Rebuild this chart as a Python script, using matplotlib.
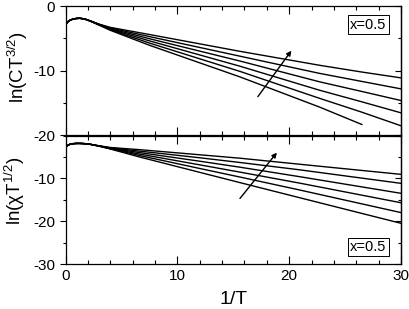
import numpy as np
import matplotlib
matplotlib.use("Agg")
import matplotlib.pyplot as plt
from matplotlib.ticker import MultipleLocator

plt.rcParams['font.family'] = ['Liberation Sans', 'DejaVu Sans']
plt.rcParams['mathtext.default'] = 'regular'
plt.rcParams['axes.unicode_minus'] = False

nan = np.nan
# ---- data: top panel ln(C T^{3/2}) vs 1/T ----
x_top = [0, 0.2, 0.4, 0.7, 1.0, 1.3, 1.7, 2.2, 3.0, 4.0, 7.5, 15.6, 22.7, 26.5, 30]
c1 = [-2.9, -2.45, -2.2, -2.0, -1.92, -1.9, -2.0, -2.28, -2.80, -3.30, -4.40, -7.00, -9.15, -10.2, -11.1]
c2 = [-2.9, -2.45, -2.2, -2.0, -1.92, -1.9, -2.0, -2.29, -2.83, -3.39, -4.72, -7.75, -10.4, -11.65, -12.8]
c3 = [-2.9, -2.45, -2.2, -2.0, -1.92, -1.9, -2.0, -2.30, -2.86, -3.48, -5.05, -8.50, -11.7, -13.2, -14.6]
c4 = [-2.9, -2.45, -2.2, -2.0, -1.92, -1.9, -2.0, -2.31, -2.89, -3.57, -5.38, -9.30, -13.0, -14.8, -16.5]
c5 = [-2.9, -2.45, -2.2, -2.0, -1.92, -1.9, -2.0, -2.32, -2.92, -3.66, -5.72, -10.1, -14.25, -16.4, -18.5]
c6 = [-2.9, -2.45, -2.2, -2.0, -1.92, -1.9, -2.0, -2.33, -2.95, -3.75, -6.06, -10.95, -15.6, -18.3, nan]
top_series = [c1, c2, c3, c4, c5, c6]

# ---- data: bottom panel ln(chi T^{1/2}) vs 1/T ----
x_bot = [0, 0.2, 0.4, 0.7, 1.0, 1.3, 1.7, 2.2, 3.0, 4.0, 6.6, 12, 15.6, 20.9, 30]
b1 = [-2.8, -2.3, -2.05, -1.9, -1.85, -1.85, -1.9, -2.05, -2.40, -2.80, -3.30, -4.50, -5.30, -6.70, -9.07]
b2 = [-2.8, -2.3, -2.05, -1.9, -1.85, -1.85, -1.9, -2.05, -2.42, -2.87, -3.64, -5.20, -6.30, -8.00, -11.17]
b3 = [-2.8, -2.3, -2.05, -1.9, -1.85, -1.85, -1.9, -2.05, -2.44, -2.94, -3.98, -6.00, -7.40, -9.60, -13.5]
b4 = [-2.8, -2.3, -2.05, -1.9, -1.85, -1.85, -1.9, -2.05, -2.46, -3.01, -4.32, -6.85, -8.55, -11.1, -15.7]
b5 = [-2.8, -2.3, -2.05, -1.9, -1.85, -1.85, -1.9, -2.05, -2.48, -3.08, -4.66, -7.70, -9.70, -12.7, -18.0]
b6 = [-2.8, -2.3, -2.05, -1.9, -1.85, -1.85, -1.9, -2.05, -2.50, -3.15, -5.00, -8.60, -11.0, -14.5, -20.5]
bot_series = [b1, b2, b3, b4, b5, b6]

# arrows (tail -> head), in data units
arrow_top = ((17.2, -14.0), (20.2, -6.9))
arrow_bot = ((15.6, -14.7), (18.9, -4.0))

label_text = "x=0.5"
x_ticks = [0, 10, 20, 30]

fig = plt.figure(figsize=(4.09, 3.09), dpi=100)
L, R = 65.5 / 409, 401 / 409
ax1 = fig.add_axes([L, 1 - 135.5 / 309, R - L, (135.5 - 6) / 309])
ax2 = fig.add_axes([L, 1 - 264 / 309, R - L, (264 - 135.5) / 309])

for ax, xs, series in [(ax1, x_top, top_series), (ax2, x_bot, bot_series)]:
    for ys in series:
        ax.plot(xs, ys, color='black', lw=1.0)

ax1.set_xlim(0, 30); ax1.set_ylim(-20, 0)
ax2.set_xlim(0, 30); ax2.set_ylim(-30, 0)

for ax in (ax1, ax2):
    for s in ax.spines.values():
        s.set_linewidth(0.9)
    ax.xaxis.set_major_locator(MultipleLocator(10))
    ax.xaxis.set_minor_locator(MultipleLocator(2))
    ax.yaxis.set_major_locator(MultipleLocator(10))
    ax.yaxis.set_minor_locator(MultipleLocator(5))
    ax.tick_params(axis='x', which='both', direction='in', top=True, bottom=True, width=0.8)
    ax.tick_params(axis='x', which='major', length=6)
    ax.tick_params(axis='x', which='minor', length=3)
    ax.tick_params(axis='y', which='both', direction='out', left=True, right=False, width=0.8, labelsize=11)
    ax.tick_params(axis='y', which='major', length=4)
    ax.tick_params(axis='y', which='minor', length=2.5)
    sec = ax.secondary_yaxis('right')
    sec.yaxis.set_major_locator(MultipleLocator(10))
    sec.yaxis.set_minor_locator(MultipleLocator(5))
    sec.tick_params(which='both', direction='in', labelright=False, width=0.8)
    sec.tick_params(which='major', length=4)
    sec.tick_params(which='minor', length=2.5)
    sec.spines['right'].set_linewidth(0.9)

ax1.tick_params(axis='x', labelbottom=False)
ax2.tick_params(axis='x', labelsize=11)
ax2.set_xticks(x_ticks)
ax2.set_yticks([-30, -20, -10])

ax1.set_ylabel('ln(CT$^{3/2}$)', fontsize=13.5)
ax2.set_ylabel('ln(\u03c7T$^{1/2}$)', fontsize=13.5)
ax1.yaxis.set_label_coords(-0.105, 0.53)
ax2.yaxis.set_label_coords(-0.115, 0.57)
ax2.set_xlabel('1/T', fontsize=14, labelpad=6)

box = dict(boxstyle='square,pad=0.15', fc='white', ec='black', lw=0.7)
ax1.text(0.903, 0.857, label_text, transform=ax1.transAxes, ha='center', va='center', fontsize=10.5, bbox=box)
ax2.text(0.903, 0.132, label_text, transform=ax2.transAxes, ha='center', va='center', fontsize=10.5, bbox=box)

for ax, (tail, head) in [(ax1, arrow_top), (ax2, arrow_bot)]:
    ax.annotate('', xy=head, xytext=tail,
                arrowprops=dict(arrowstyle='-|>', lw=1.0, color='black', mutation_scale=7, shrinkA=0, shrinkB=0))

fig.savefig('out.png', dpi=100)
